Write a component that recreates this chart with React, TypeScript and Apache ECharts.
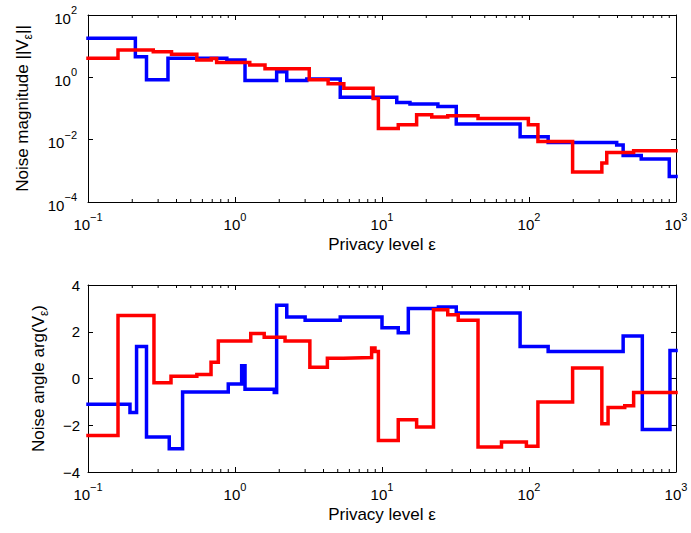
import React, { useEffect, useRef } from "react";
import * as echarts from "echarts";

const blueMagX = [0.1, 0.21, 0.25, 0.35, 0.88, 1.17, 1.92, 2.25, 3.08, 5.2, 12.6, 15.5, 24, 32, 87, 135, 395, 437, 580, 900, 1000];
const blueMagY = [18, 4.6, 0.83, 4.1, 3.6, 0.79, 1.5, 0.79, 0.89, 0.23, 0.155, 0.14, 0.115, 0.032, 0.0123, 0.0081, 0.0068, 0.0031, 0.0024, 0.00066, 0.00066];

const redMagX = [0.1, 0.16, 0.278, 0.37, 0.55, 0.69, 0.75, 1.26, 1.6, 3.2, 4.3, 5.5, 8.7, 9.45, 12.9, 17.2, 21.8, 28, 45, 99, 115, 198, 313, 338, 515, 1000];
const redMagY = [4.1, 7.6, 6.6, 5.5, 3.6, 4.0, 3.0, 2.5, 1.9, 0.83, 0.62, 0.45, 0.21, 0.023, 0.03, 0.063, 0.053, 0.058, 0.048, 0.03, 0.0087, 0.00091, 0.0018, 0.0039, 0.0044, 0.0044];

const blueAngX = [0.1, 0.193, 0.214, 0.25, 0.357, 0.44, 0.9, 1.11, 1.17, 1.85, 1.92, 2.25, 3.0, 5.2, 10, 12.9, 15.1, 24.2, 32, 87, 135, 437, 590, 910, 1000];
const blueAngY = [-1.1, -1.45, 1.37, -2.5, -3.0, -0.58, -0.23, 0.55, -0.46, -0.6, 3.13, 2.63, 2.49, 2.63, 2.17, 1.96, 2.99, 3.06, 2.8, 1.37, 1.15, 1.82, -2.18, 1.2, 1.2];

const redAngX = [0.1, 0.16, 0.281, 0.367, 0.55, 0.687, 0.77, 1.28, 1.58, 2.19, 3.23, 4.25, 5.46, 8.5, 8.96, 9.45, 12.9, 17.2, 22.4, 28, 33, 45, 65, 96, 115, 198, 313, 345, 448, 515, 1000];
const redAngY = [-2.44, 2.7, -0.18, 0.1, 0.17, 0.7, 1.6, 1.93, 1.76, 1.6, 0.48, 0.87, 0.9, 1.3, 1.15, -2.65, -1.76, -2.08, 2.94, 2.73, 2.49, -2.93, -2.72, -2.9, -1.0, 0.45, -1.94, -1.24, -1.17, -0.6, -0.6];

const minorTickX = [0.2, 0.3, 0.4, 0.5, 0.6, 0.7, 0.8, 0.9, 2, 3, 4, 5, 6, 7, 8, 9, 20, 30, 40, 50, 60, 70, 80, 90, 200, 300, 400, 500, 600, 700, 800, 900];

const xLabel = "Privacy level ε";
const yLabelTop = "Noise magnitude ||V{sub|ε}||";
const yLabelBottom = "Noise angle arg(V{sub|ε})";

const FONT = "'Liberation Sans', Arial, Helvetica, sans-serif";

const zip = (xs: number[], ys: number[]) => xs.map((x, i) => [x, ys[i]]);

const powLabel = (v: number) => {
  const e = Math.round(Math.log10(v));
  return "{b|10}{s|" + (e < 0 ? "−" + -e : String(e)) + "}";
};

const powRich = {
  b: { fontSize: 15, fontFamily: FONT, color: "#000", verticalAlign: "bottom" },
  s: { fontSize: 11, fontFamily: FONT, color: "#000", verticalAlign: "bottom", padding: [0, 0, 10, 0] },
};

const nameStyle = {
  fontSize: 17,
  fontFamily: FONT,
  color: "#000",
  rich: { sub: { fontSize: 12, fontFamily: FONT, color: "#000", verticalAlign: "top", padding: [11, 0, 0, 0] } },
};

export default function App() {
  const ref = useRef<HTMLDivElement>(null);
  useEffect(() => {
    if (!ref.current) return;
    const chart = echarts.init(ref.current, undefined, { renderer: "svg" });
    const grids = [
      { left: 88, top: 15, width: 588, height: 187 },
      { left: 88, top: 285, width: 588, height: 187 },
    ];
    const xBase = (gi: number, top: boolean) => ({
      type: "log",
      logBase: 10,
      gridIndex: gi,
      min: 0.1,
      max: 1000,
      position: top ? "top" : "bottom",
      axisLine: { show: true, onZero: false, lineStyle: { color: "#000", width: 1 } },
      axisTick: { show: true, inside: true, length: 5, lineStyle: { color: "#000" } },
      splitLine: { show: false },
      minorTick: { show: false },
      axisLabel: top
        ? { show: false }
        : { show: true, formatter: powLabel, rich: powRich, margin: 9 },
      name: top ? "" : xLabel,
      nameLocation: "middle",
      nameGap: 34,
      nameTextStyle: { fontSize: 17, fontFamily: FONT, color: "#000" },
    });
    const yTop = (right: boolean) => ({
      type: "log",
      logBase: 10,
      gridIndex: 0,
      min: 1e-4,
      max: 1e2,
      interval: 2,
      splitNumber: 3,
      position: right ? "right" : "left",
      axisLine: { show: true, onZero: false, lineStyle: { color: "#000", width: 1 } },
      axisTick: { show: true, inside: true, length: 5, lineStyle: { color: "#000" } },
      splitLine: { show: false },
      axisLabel: right
        ? { show: false }
        : { show: true, formatter: powLabel, rich: powRich, margin: 11 },
      name: right ? "" : yLabelTop,
      nameLocation: "middle",
      nameGap: 54,
      nameRotate: 90,
      nameTextStyle: nameStyle,
    });
    const yBot = (right: boolean) => ({
      type: "value",
      gridIndex: 1,
      min: -4,
      max: 4,
      interval: 2,
      position: right ? "right" : "left",
      axisLine: { show: true, onZero: false, lineStyle: { color: "#000", width: 1 } },
      axisTick: { show: true, inside: true, length: 5, lineStyle: { color: "#000" } },
      splitLine: { show: false },
      axisLabel: right
        ? { show: false }
        : {
            show: true,
            margin: 8,
            fontSize: 15,
            fontFamily: FONT,
            color: "#000",
            formatter: (v: number) => (v < 0 ? "−" + -v : String(v)),
          },
      name: right ? "" : yLabelBottom,
      nameLocation: "middle",
      nameGap: 38,
      nameRotate: 90,
      nameTextStyle: nameStyle,
    });

    const minorSeries = (xi: number, yi: number, yv: number) => ({
      type: "custom",
      xAxisIndex: xi,
      yAxisIndex: yi,
      silent: true,
      clip: false,
      data: minorTickX.map((m) => [m, yv]),
      renderItem: (params: any, api: any) => {
        const p = api.coord([api.value(0), api.value(1)]);
        const cs = params.coordSys;
        const yb = cs.y + cs.height;
        const yt = cs.y;
        return {
          type: "group",
          children: [
            { type: "line", shape: { x1: p[0], y1: yb, x2: p[0], y2: yb - 3 }, style: { stroke: "#000", lineWidth: 1 } },
            { type: "line", shape: { x1: p[0], y1: yt, x2: p[0], y2: yt + 3 }, style: { stroke: "#000", lineWidth: 1 } },
          ],
        };
      },
    });

    const lineSeries = (xi: number, yi: number, data: number[][], color: string) => ({
      type: "line",
      xAxisIndex: xi,
      yAxisIndex: yi,
      step: "end",
      showSymbol: false,
      symbol: "none",
      data,
      lineStyle: { color, width: 3.5, cap: "square", join: "miter" },
      itemStyle: { color },
    });

    chart.setOption({
      animation: false,
      backgroundColor: "#fff",
      grid: grids,
      xAxis: [xBase(0, false), xBase(0, true), xBase(1, false), xBase(1, true)],
      yAxis: [yTop(false), yTop(true), yBot(false), yBot(true)],
      series: [
        lineSeries(0, 0, zip(blueMagX, blueMagY), "#0000ff"),
        lineSeries(0, 0, zip(redMagX, redMagY), "#ff0000"),
        lineSeries(2, 2, zip(blueAngX, blueAngY), "#0000ff"),
        lineSeries(2, 2, zip(redAngX, redAngY), "#ff0000"),
        minorSeries(0, 0, 1),
        minorSeries(2, 2, 0),
      ],
    });
    return () => chart.dispose();
  }, []);
  return <div ref={ref} style={{ position: "fixed", left: 0, top: 0, width: 691, height: 533 }} />;
}
